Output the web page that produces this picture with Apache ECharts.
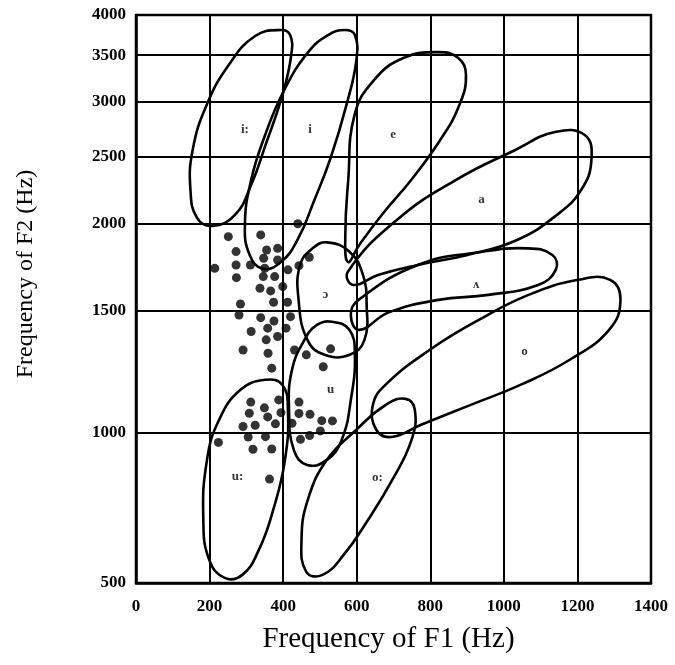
<!DOCTYPE html>
<html>
<head>
<meta charset="utf-8">
<script src="https://cdn.jsdelivr.net/npm/echarts@6/dist/echarts.min.js"></script>
<style>html,body{margin:0;padding:0;background:#fff}#chart{width:675px;height:665px}</style>
</head>
<body>
<div id="chart"></div>
<script>
// Axis ticks
const xTickLabels = [0, 200, 400, 600, 800, 1000, 1200, 1400];
const yTickLabels = [500, 1000, 1500, 2000, 2500, 3000, 3500, 4000];

// Measured tokens (F1 Hz, F2 Hz)
const dotsF1 = [440,251,339,272,355,385,214,272,311,347,350,385,443,471,273,346,377,413,337,366,399,374,412,284,280,339,375,420,358,408,385,354,313,291,359,431,463,529,509,369,312,349,388,443,308,394,358,443,473,291,324,379,424,505,534,305,352,224,447,472,501,318,369,363];
const dotsF2 = [2000,1916,1927,1823,1833,1843,1725,1744,1744,1783,1725,1773,1740,1789,1672,1678,1678,1716,1614,1600,1623,1541,1541,1532,1477,1464,1448,1469,1414,1414,1375,1360,1398,1315,1301,1315,1294,1320,1244,1238,1106,1085,1114,1106,1066,1068,1053,1065,1062,1020,1024,1029,1031,1040,1039,985,986,967,977,990,1005,944,945,845];

// Vowel region outlines, [F1, F2] in Hz
const regionILong = [[394,3805],[419,3742],[422,3502],[398,3066],[352,2597],[313,2274],[269,2059],[207,1985],[166,2039],[148,2237],[154,2555],[192,2966],[252,3388],[324,3730]];
const regionI = [[568,3805],[595,3742],[599,3444],[572,2966],[529,2488],[485,2164],[439,1895],[394,1761],[345,1722],[309,1803],[296,1992],[313,2313],[351,2685],[403,3118],[468,3536],[522,3742]];
const regionE = [[822,3536],[876,3467],[897,3277],[879,2966],[827,2641],[748,2313],[668,2059],[607,1864],[576,1761],[569,1927],[577,2313],[594,2869],[647,3223],[727,3467]];
const regionA = [[576,1705],[709,2025],[870,2313],[1031,2555],[1139,2712],[1220,2685],[1238,2471],[1210,2237],[1144,2059],[1036,1895],[901,1803],[766,1744],[658,1687],[591,1632]];
const regionWedge = [[605,1553],[766,1744],[928,1818],[1064,1843],[1132,1803],[1141,1716],[1093,1632],[958,1579],[822,1553],[687,1490],[607,1406],[584,1477]];
const regionOpenO = [[520,1880],[581,1821],[617,1687],[627,1527],[621,1360],[581,1294],[513,1294],[466,1360],[442,1553],[446,1744],[480,1843]];
const regionO = [[653,1009],[644,1096],[678,1171],[798,1315],[932,1453],[1067,1579],[1202,1660],[1289,1660],[1317,1553],[1286,1406],[1179,1273],[1045,1171],[910,1096],[775,1026],[694,985]];
const regionU = [[533,1444],[580,1406],[595,1294],[584,1114],[559,975],[519,909],[465,892],[429,942],[416,1078],[424,1231],[458,1360],[492,1429]];
const regionOLong = [[733,1118],[758,1078],[749,975],[697,843],[631,710],[565,594],[507,527],[463,537],[450,644],[467,776],[519,909],[599,1009],[679,1096]];
const regionULong = [[352,1191],[398,1171],[413,1078],[405,909],[373,743],[334,610],[289,527],[241,517],[199,577],[183,710],[193,909],[226,1043],[284,1152]];

const regions = [regionILong, regionI, regionE, regionA, regionWedge, regionOpenO, regionO, regionU, regionOLong, regionULong];

// Vowel labels
const vowelNames = ['i:', 'i', 'e', 'a', 'ʌ', 'ɔ', 'o', 'u', 'o:', 'u:'];
const vowelF1 = [296, 473, 699, 939, 925, 515, 1056, 529, 656, 276];
const vowelF2 = [2730, 2730, 2685, 2164, 1632, 1579, 1306, 1152, 850, 853];

// Koenig frequency scale: linear below 1 kHz, logarithmic above
function koenig(f) { return f <= 1000 ? f : 1000 * (1 + Math.log(f / 1000)); }
function koenigInv(v) { return v <= 1000 ? v : 1000 * Math.exp(v / 1000 - 1); }

const yTickPos = yTickLabels.map(koenig);
const serif = '"Liberation Serif", "DejaVu Serif", serif';

const chart = echarts.init(document.getElementById('chart'), null, { renderer: 'canvas' });
chart.setOption({
  animation: false,
  backgroundColor: '#fff',
  grid: { left: 136, right: 24, top: 15, bottom: 82, show: true, borderColor: '#000', borderWidth: 2.5, backgroundColor: 'transparent' },
  xAxis: {
    type: 'value', min: xTickLabels[0], max: xTickLabels[xTickLabels.length - 1], interval: 200,
    name: 'Frequency of F1 (Hz)', nameLocation: 'middle', nameGap: 42,
    nameTextStyle: { fontFamily: serif, fontSize: 29, color: '#000', padding: [0, 10, 0, 0] },
    axisLine: { show: true, lineStyle: { color: '#000', width: 2.5 } },
    axisTick: { show: false },
    axisLabel: { fontFamily: serif, fontWeight: 'bold', fontSize: 17, color: '#000', margin: 15,
      formatter: function (v) { return String(v); } },
    splitLine: { show: true, lineStyle: { color: '#000', width: 2 } }
  },
  yAxis: {
    type: 'value', min: yTickPos[0], max: yTickPos[yTickPos.length - 1],
    name: 'Frequency of F2 (Hz)', nameLocation: 'middle', nameGap: 98,
    nameTextStyle: { fontFamily: serif, fontSize: 24, color: '#000', padding: [0, 0, 0, 50] },
    axisLine: { show: true, lineStyle: { color: '#000', width: 2.5 } },
    axisTick: { show: false, customValues: yTickPos },
    axisLabel: {
      customValues: yTickPos, fontFamily: serif, fontWeight: 'bold', fontSize: 17, color: '#000', margin: 10,
      formatter: function (v) { return String(Math.round(koenigInv(v))); }
    },
    splitLine: { show: true, lineStyle: { color: '#000', width: 2 } }
  },
  series: [
    {
      type: 'custom',
      renderItem: function (params, api) {
        const pts = regions[api.value(0)].map(p => api.coord([p[0], koenig(p[1])]));
        return { type: 'polygon', shape: { points: pts, smooth: 0.45 }, style: { fill: 'none', stroke: '#000', lineWidth: 2.6 } };
      },
      data: regions.map((r, i) => [i]),
      silent: true, z: 3
    },
    {
      type: 'scatter', symbol: 'circle', symbolSize: 9,
      itemStyle: { color: '#000' },
      data: dotsF1.map((x, i) => [x, koenig(dotsF2[i])]), z: 4
    },
    {
      type: 'scatter', symbolSize: 0,
      label: { show: true, position: 'inside', fontFamily: serif, fontWeight: 'bold', fontSize: 13, color: '#000',
        formatter: p => vowelNames[p.dataIndex] },
      data: vowelF1.map((x, i) => [x, koenig(vowelF2[i])]), z: 5
    }
  ]
});
</script>
</body>
</html>
